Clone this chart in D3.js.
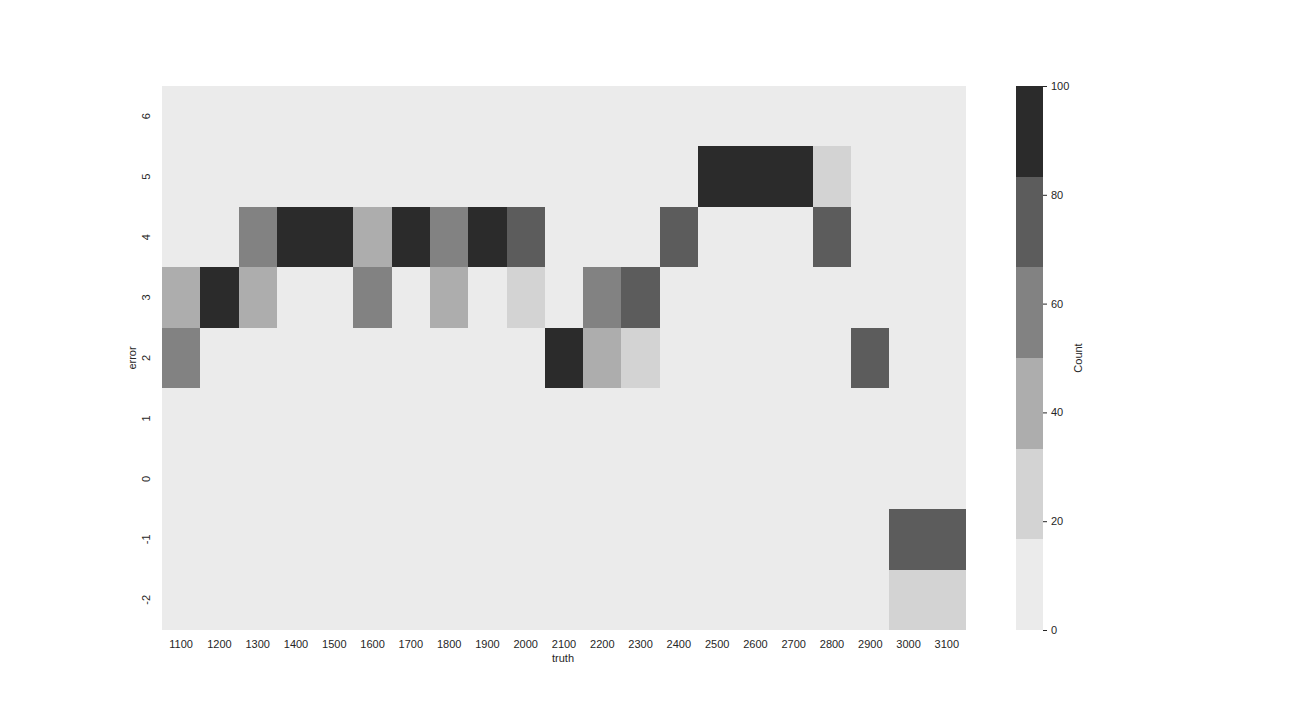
<!DOCTYPE html>
<html>
<head>
  <meta charset="utf-8">
<style type="text/css">
  body { margin: 0; background: #fff; }
  text { font-family: "Liberation Sans", Arial, sans-serif; fill: #262626; }
</style>
</head>
<script src="https://cdn.jsdelivr.net/npm/d3@7"></script>
<body>
<script>
  var w = 1296;
  var h = 720;

  var truthCats = [1100, 1200, 1300, 1400, 1500, 1600, 1700, 1800, 1900, 2000, 2100,
                   2200, 2300, 2400, 2500, 2600, 2700, 2800, 2900, 3000, 3100];
  var errorCats = [6, 5, 4, 3, 2, 1, 0, -1, -2];

  // non-empty cells (truth, error, count)
  var cellTruth = [2500, 2600, 2700, 2800,
                   1300, 1400, 1500, 1600, 1700, 1800, 1900, 2000, 2400, 2800,
                   1100, 1200, 1300, 1600, 1800, 2000, 2200, 2300,
                   1100, 2100, 2200, 2300, 2900,
                   3000, 3100,
                   3000, 3100];
  var cellError = [5, 5, 5, 5,
                   4, 4, 4, 4, 4, 4, 4, 4, 4, 4,
                   3, 3, 3, 3, 3, 3, 3, 3,
                   2, 2, 2, 2, 2,
                   -1, -1,
                   -2, -2];
  var cellCount = [95, 95, 95, 25,
                   60, 95, 95, 40, 95, 60, 95, 75, 75, 75,
                   40, 95, 40, 60, 40, 25, 60, 75,
                   60, 95, 40, 25, 75,
                   75, 75,
                   25, 25];

  var palette = ['#ebebeb', '#d3d3d3', '#adadad', '#828282', '#5c5c5c', '#2b2b2b'];
  var cbTicks = [0, 20, 40, 60, 80, 100];

  var pLeft = 162, pTop = 86, pRight = 966, pBottom = 630;

  var svg = d3.select("body").append("svg")
              .attr("width", w).attr("height", h);

  var x = d3.scaleBand().domain(truthCats).range([pLeft, pRight]);
  var y = d3.scaleBand().domain(errorCats).range([pTop, pBottom]);
  var color = d3.scaleQuantize().domain([0, 100]).range(palette);

  svg.append("rect")
     .attr("x", pLeft).attr("y", pTop)
     .attr("width", pRight - pLeft).attr("height", pBottom - pTop)
     .attr("fill", palette[0]);

  var cells = cellCount.map(function (c, i) {
    return { truth: cellTruth[i], error: cellError[i], count: c };
  });

  svg.selectAll("rect.cell")
     .data(cells)
     .enter()
     .append("rect")
     .attr("class", "cell")
     .attr("x", function (d) { return x(d.truth); })
     .attr("y", function (d) { return y(d.error); })
     .attr("width", x.bandwidth())
     .attr("height", y.bandwidth())
     .attr("fill", function (d) { return color(d.count); })
     .attr("shape-rendering", "crispEdges");

  // x axis labels
  var xAxis = svg.append("g")
     .attr("transform", "translate(0," + pBottom + ")")
     .call(d3.axisBottom(x).tickSize(0).tickPadding(10));
  xAxis.select(".domain").remove();
  xAxis.selectAll("text").style("font-size", "11px").attr("fill", "#262626");

  // y axis labels, rotated
  var yAxis = svg.append("g")
     .attr("transform", "translate(" + pLeft + ",0)")
     .call(d3.axisLeft(y).tickSize(0).tickPadding(0));
  yAxis.select(".domain").remove();
  yAxis.selectAll("text")
       .style("font-size", "11px")
       .attr("fill", "#262626")
       .attr("x", 0).attr("dy", 0)
       .attr("text-anchor", "middle")
       .attr("transform", "translate(-12,0) rotate(-90)");

  svg.append("text")
     .attr("x", 563).attr("y", 662)
     .attr("text-anchor", "middle")
     .style("font-size", "11px")
     .text("truth");

  svg.append("text")
     .attr("transform", "translate(136,358) rotate(-90)")
     .attr("text-anchor", "middle")
     .style("font-size", "11px")
     .text("error");

  // colorbar
  var cbX = 1016, cbW = 27;
  var cy = d3.scaleLinear().domain([0, 100]).range([pBottom, pTop]);
  var bands = d3.range(palette.length).map(function (i) {
    return { lo: i * 100 / palette.length, hi: (i + 1) * 100 / palette.length, c: palette[i] };
  });
  svg.selectAll("rect.cb")
     .data(bands)
     .enter()
     .append("rect")
     .attr("class", "cb")
     .attr("x", cbX)
     .attr("y", function (d) { return cy(d.hi); })
     .attr("width", cbW)
     .attr("height", function (d) { return cy(d.lo) - cy(d.hi); })
     .attr("fill", function (d) { return d.c; })
     .attr("shape-rendering", "crispEdges");

  var cbAxis = svg.append("g")
     .attr("transform", "translate(" + (cbX + cbW) + ",0)")
     .call(d3.axisRight(cy).tickValues(cbTicks).tickSize(4).tickPadding(4));
  cbAxis.select(".domain").remove();
  cbAxis.selectAll("line").attr("stroke", "#262626");
  cbAxis.selectAll("text").style("font-size", "11px").attr("fill", "#262626");

  svg.append("text")
     .attr("transform", "translate(1082,358) rotate(-90)")
     .attr("text-anchor", "middle")
     .style("font-size", "11px")
     .text("Count");
</script>
</body>
</html>
